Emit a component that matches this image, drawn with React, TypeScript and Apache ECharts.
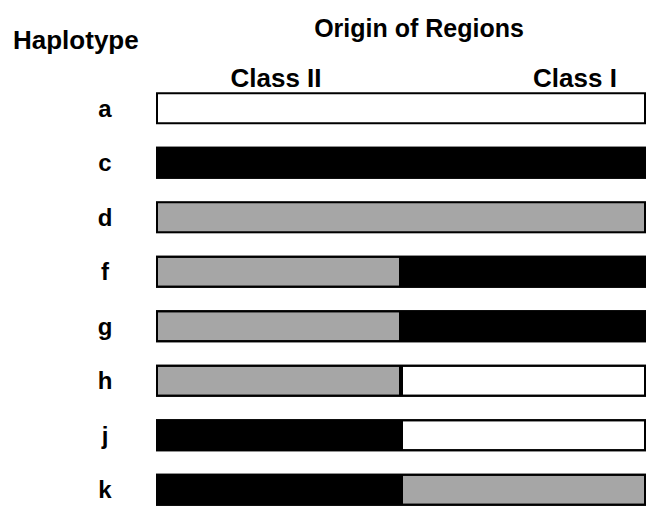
import React, { useEffect, useRef } from "react";
import * as echarts from "echarts";

const haplotypes = ["a", "c", "d", "f", "g", "h", "j", "k"];
// origin of each region: "white", "black" or "gray"
const classIIOrigin = ["white", "black", "gray", "gray", "gray", "gray", "black", "black"];
const classIOrigin = ["white", "black", "gray", "black", "black", "white", "white", "gray"];
const classIIExtent = [1, 1, 1, 1, 1, 1, 1, 1];
const classIExtent = [1, 1, 1, 1, 1, 1, 1, 1];

const fills: Record<string, string> = {
  white: "#ffffff",
  black: "#000000",
  gray: "#a6a6a6",
};

const FONT = "'Liberation Sans', Arial, Helvetica, sans-serif";

export default function App() {
  const ref = useRef<HTMLDivElement>(null);

  useEffect(() => {
    if (!ref.current) return;
    const chart = echarts.init(ref.current, undefined, { renderer: "svg" });

    const mk = (vals: number[], origins: string[], other: string[]) =>
      vals.map((v, i) => {
        const same = origins[i] === other[i];
        return {
          value: v,
          itemStyle: {
            color: fills[origins[i]],
            borderColor: same ? fills[origins[i]] : "#000",
            borderWidth: same ? 1.5 : 2,
          },
        };
      });

    const outline = classIIExtent.map((v, i) => v + classIExtent[i]);

    const textStyle = (size: number) => ({
      fill: "#000",
      fontSize: size,
      fontWeight: "bold" as const,
      fontFamily: FONT,
    });

    chart.setOption({
      animation: false,
      backgroundColor: "#ffffff",
      grid: { left: 156, right: 3, top: 81, height: 442 },
      xAxis: {
        type: "value",
        min: 0,
        max: 2,
        show: false,
      },
      yAxis: {
        type: "category",
        data: haplotypes,
        inverse: true,
        axisLine: { show: false },
        axisTick: { show: false },
        splitLine: { show: false },
        axisLabel: {
          margin: 51,
          align: "center",
          color: "#000",
          fontSize: 24,
          fontWeight: "bold",
          fontFamily: FONT,
        },
      },
      graphic: [
        {
          type: "text",
          x: 13,
          y: 40,
          style: { text: "Haplotype", align: "left", verticalAlign: "middle", ...textStyle(26) },
        },
        {
          type: "text",
          x: 419,
          y: 28,
          style: { text: "Origin of Regions", align: "center", verticalAlign: "middle", ...textStyle(25) },
        },
        {
          type: "text",
          x: 276,
          y: 78,
          style: { text: "Class II", align: "center", verticalAlign: "middle", ...textStyle(26) },
        },
        {
          type: "text",
          x: 575,
          y: 78,
          style: { text: "Class I", align: "center", verticalAlign: "middle", ...textStyle(26) },
        },
      ],
      series: [
        {
          name: "Class II",
          type: "bar",
          stack: "regions",
          barWidth: 32,
          barGap: "-100%",
          data: mk(classIIExtent, classIIOrigin, classIOrigin),
        },
        {
          name: "Class I",
          type: "bar",
          stack: "regions",
          barWidth: 32,
          barGap: "-100%",
          data: mk(classIExtent, classIOrigin, classIIOrigin),
        },
        {
          name: "outline",
          type: "bar",
          barWidth: 32,
          barGap: "-100%",
          z: 5,
          silent: true,
          itemStyle: { color: "transparent", borderColor: "#000", borderWidth: 2 },
          data: outline,
        },
      ],
    });

    return () => chart.dispose();
  }, []);

  return (
    <div
      ref={ref}
      style={{ position: "absolute", left: 0, top: 0, width: 649, height: 517 }}
    />
  );
}
